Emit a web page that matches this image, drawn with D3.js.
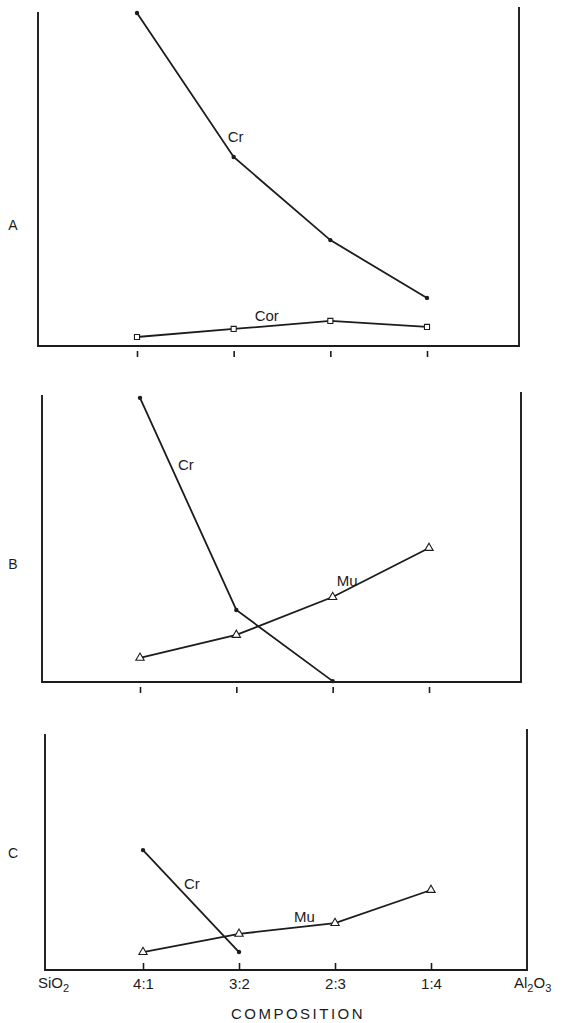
<!DOCTYPE html>
<html>
<head>
<meta charset="utf-8">
<script src="https://cdn.jsdelivr.net/npm/d3@7"></script>
<style>
    body { margin: 0; background: #ffffff; }
    svg { display: block; font-family: "Liberation Sans", Arial, sans-serif; }
    .frame { fill: none; stroke: #1c1c1c; stroke-width: 1.9px; }
    .series { fill: none; stroke: #1c1c1c; stroke-width: 1.8px; }
    .lbl { fill: #1c1c1c; font-size: 15px; }
</style>
</head>
<body>
<svg id="chart"></svg>
<script>
// composition ratios SiO2 : Al2O3 and the Al2O3 fraction they stand for
const compLabels = ["4:1", "3:2", "2:3", "1:4"];
const compFrac = [0.2, 0.4, 0.6, 0.8];
const panelNames = ["A", "B", "C"];

// relative amounts (0 = base line, 100 = top of frame)
const crA = [99.7, 56.6, 31.7, 14.4];
const corA = [2.7, 5.1, 7.5, 5.7];
const crB = [99.0, 25.1, 0.3];
const muB = [8.4, 16.4, 29.6, 46.7];
const crC = [50.8, 7.6];
const muC = [7.6, 15.3, 19.9, 33.9];

function init() {
    const s_width = 564;
    const s_height = 1023;

    const svg = d3.select("#chart")
        .attr("width", s_width)
        .attr("height", s_height);

    //frame boxes for the three panels
    const panels = [
        {name: panelNames[0], left: 38, right: 519, top: 12, topR: 7, bottom: 346, x0: 137, x1: 427,
         series: [{vals: crA, mark: "dot", label: "Cr", at: 1, dx: -6, dy: -15},
                  {vals: corA, mark: "square", label: "Cor", at: 1, dx: 21, dy: -8}],
         ticks: "below", nameY: 230},
        {name: panelNames[1], left: 42, right: 521, top: 395, topR: 392, bottom: 682, x0: 140, x1: 429,
         series: [{vals: crB, mark: "dot", label: "Cr", at: 0, dx: 38, dy: 72},
                  {vals: muB, mark: "tri", label: "Mu", at: 2, dx: 4, dy: -11}],
         ticks: "below", nameY: 569},
        {name: panelNames[2], left: 45, right: 527, top: 734, topR: 729, bottom: 970, x0: 143, x1: 431,
         series: [{vals: crC, mark: "dot", label: "Cr", at: 0, dx: 41, dy: 39},
                  {vals: muC, mark: "tri", label: "Mu", at: 1, dx: 55, dy: -12}],
         ticks: "on", nameY: 858}
    ];

    panels.forEach(function(p) {
        const g = svg.append("g");

        const scaleX = d3.scaleLinear()
            .domain([compFrac[0], compFrac[compFrac.length - 1]])
            .range([p.x0, p.x1]);
        const scaleY = d3.scaleLinear()
            .domain([0, 100])
            .range([p.bottom, p.top]);

        //open frame: left side, base line, right side
        g.append("path")
            .attr("class", "frame")
            .attr("d", `M${p.left},${p.top}L${p.left},${p.bottom}L${p.right},${p.bottom}L${p.right},${p.topR}`);

        //composition ticks
        if (p.ticks === "below") {
            const xAxis = d3.axisBottom(scaleX).tickValues(compFrac).tickSize(6).tickFormat("");
            const ax = g.append("g")
                .attr("transform", `translate(0, ${p.bottom + 5})`)
                .call(xAxis);
            ax.select(".domain").remove();
            ax.selectAll("line").attr("stroke", "#1c1c1c").attr("stroke-width", 1.6);
        } else {
            const xAxis = d3.axisBottom(scaleX).tickValues(compFrac).tickSize(-7).tickPadding(8)
                .tickFormat((d, i) => compLabels[i]);
            const ax = g.append("g")
                .attr("transform", `translate(0, ${p.bottom})`)
                .call(xAxis);
            ax.select(".domain").remove();
            ax.selectAll("line").attr("stroke", "#1c1c1c").attr("stroke-width", 1.6);
            ax.selectAll("text")
                .attr("fill", "#1c1c1c")
                .style("font-size", "15px")
                .style("font-family", "'Liberation Sans', Arial, sans-serif");
        }

        //panel letter
        g.append("text")
            .attr("class", "lbl")
            .attr("x", 13)
            .attr("y", p.nameY)
            .attr("text-anchor", "middle")
            .style("font-size", "14px")
            .text(p.name);

        p.series.forEach(function(s) {
            const pts = s.vals.map((v, i) => [scaleX(compFrac[i]), scaleY(v)]);

            g.append("path")
                .attr("class", "series")
                .attr("d", d3.line()(pts));

            if (s.mark === "dot") {
                g.selectAll(null).data(pts).enter()
                    .append("circle")
                    .attr("cx", d => d[0])
                    .attr("cy", d => d[1])
                    .attr("r", 2.2)
                    .attr("fill", "#1c1c1c");
            } else {
                const sym = s.mark === "square" ? d3.symbolSquare : d3.symbolTriangle;
                g.selectAll(null).data(pts).enter()
                    .append("path")
                    .attr("d", d3.symbol().type(sym).size(s.mark === "square" ? 26 : 30))
                    .attr("transform", d => `translate(${d[0]},${d[1]})`)
                    .attr("fill", "#fff")
                    .attr("stroke", "#1c1c1c")
                    .attr("stroke-width", 1.1);
            }

            //curve name next to the line
            g.append("text")
                .attr("class", "lbl")
                .attr("x", pts[s.at][0] + s.dx)
                .attr("y", pts[s.at][1] + s.dy)
                .text(s.label);
        });
    });

    //end members and axis title under the last panel
    const last = panels[2];
    const ends = svg.append("g").attr("class", "lbl");
    const si = ends.append("text").attr("x", 38).attr("y", last.bottom + 18);
    si.append("tspan").text("SiO");
    si.append("tspan").attr("dy", 4).style("font-size", "11px").text("2");

    const al = ends.append("text").attr("x", 514).attr("y", last.bottom + 18);
    al.append("tspan").text("Al");
    al.append("tspan").attr("dy", 4).style("font-size", "11px").text("2");
    al.append("tspan").attr("dy", -4).text("O");
    al.append("tspan").attr("dy", 4).style("font-size", "11px").text("3");

    svg.append("text")
        .attr("class", "lbl")
        .attr("x", 298)
        .attr("y", last.bottom + 49)
        .attr("text-anchor", "middle")
        .style("letter-spacing", "2.5px")
        .text("COMPOSITION");
}

window.onload = init;
</script>
</body>
</html>
